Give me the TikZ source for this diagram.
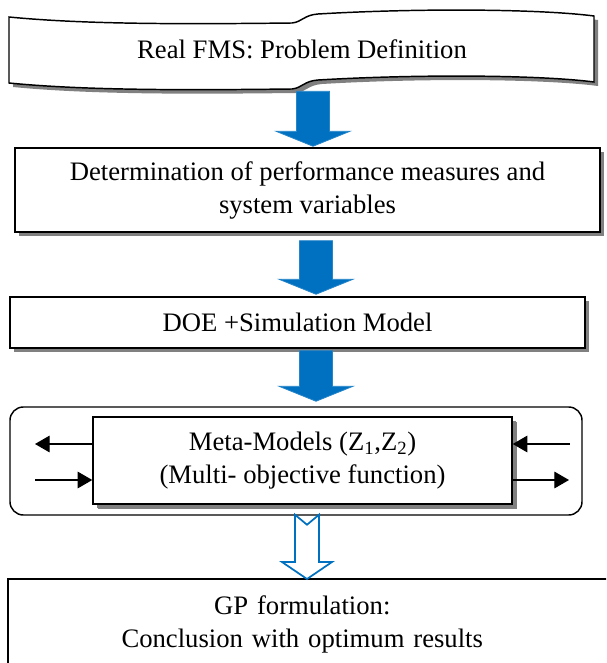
\documentclass[tikz,border=0pt]{standalone}
\usepackage{fontspec}
\setmainfont{Liberation Serif}
\usetikzlibrary{calc, shadows, arrows.meta}
\definecolor{arrowBlue}{RGB}{0,112,192}
\definecolor{shadowGray}{RGB}{128,128,128}
\tikzstyle{stepbox} = [rectangle, draw=black, line width=1.1pt, fill=white, align=center, font=\fontsize{20}{24.75}\selectfont, drop shadow={shadow xshift=3pt, shadow yshift=-3pt, fill=shadowGray, opacity=1}]
\tikzstyle{plaintext} = [align=center, font=\fontsize{20}{24.75}\selectfont]
\tikzstyle{blockarrow} = [fill=arrowBlue, draw=arrowBlue!85!white, line width=0.6pt, to path={($(\tikztostart)+(-16.5,0)$) -- ($(\tikztostart)+(16.5,0)$) -- ($(\tikztotarget)+(16.5,-15)$) -- ($(\tikztotarget)+(37,-15)$) -- (\tikztotarget) -- ($(\tikztotarget)+(-37,-15)$) -- ($(\tikztotarget)+(-16.5,-15)$) -- cycle}]
\tikzstyle{hollowarrow} = [draw=arrowBlue, fill=white, line width=1.3pt, line join=miter, to path={($(\tikztostart)+(-12,0)$) -- ($(\tikztostart)+(0,10)$) -- ($(\tikztostart)+(12,0)$) -- ($(\tikztotarget)+(12,-17)$) -- ($(\tikztotarget)+(25,-17)$) -- (\tikztotarget) -- ($(\tikztotarget)+(-25,-17)$) -- ($(\tikztotarget)+(-12,-17)$) -- cycle}]
\tikzstyle{sidearrow} = [line width=0.8pt, -{Triangle[length=11pt, width=12.5pt]}]

\begin{document}
\begin{tikzpicture}[x=0.75pt, y=-0.75pt]
            \useasboundingbox (0,0) rectangle (606,663);
            \clip (0,0) rectangle (606,663);

            % Problem definition banner
            \draw[fill=white, line width=1.1pt, drop shadow={shadow xshift=3pt, shadow yshift=-3pt, fill=shadowGray, opacity=1}]
                (9,17) .. controls (90,25) and (200,24) .. (292,23) .. controls (302,22) and (304,15) .. (318,14)
                .. controls (420,8) and (540,9) .. (594,16) -- (594,82)
                .. controls (540,75) and (420,74) .. (318,80) .. controls (304,81) and (302,88) .. (292,89)
                .. controls (200,90) and (90,91) .. (9,83) -- cycle;
            \node (realfms) [plaintext, minimum height=63pt] at (302,49) {Real FMS: Problem Definition};

            % Steps
            \node (determ) [stepbox, minimum width=438.75pt, minimum height=63pt] at (307.5,190) {Determination of performance measures and\\system variables};
            \node (doe) [stepbox, minimum width=431.25pt, minimum height=38.25pt] at (297.5,322.5) {DOE +Simulation Model};
            \node (frame) [rectangle, draw=black, line width=1.1pt, rounded corners=10pt, minimum width=429pt, minimum height=81pt] at (296,461) {};
            \node (meta) [stepbox, minimum width=314.25pt, minimum height=65.25pt, drop shadow={shadow xshift=3.5pt, shadow yshift=-3.5pt, fill=shadowGray, opacity=1}] at (302.5,460.5) {Meta-Models (Z\textsubscript{1},Z\textsubscript{2})\\(Multi- objective function)};
            \node (gp) [plaintext, anchor=north west, text width=441pt, inner xsep=0pt, minimum height=68.25pt] at (8,579) {GP formulation:\\Conclusion with optimum results};
            \draw[line width=1.1pt] (gp.south west) -- (gp.north west) -- ++(620,0);

            % Flow arrows
            \coordinate (colA) at (313,0);
            \coordinate (colB) at (316,0);
            \coordinate (colC) at (307,0);
            \draw[blockarrow] (realfms.south -| colA) to ($(determ.north -| colA)+(0,-1)$);
            \draw[blockarrow] (determ.south -| colB) ++(0,8) to ($(doe.north -| colB)+(0,-2)$);
            \draw[blockarrow] (doe.south -| colB) ++(0,2) to ($(frame.north -| colB)+(0,-5)$);
            \draw[hollowarrow] (frame.south -| colC) ++(0,-1) to (gp.north -| colC);

            % Meta-model in/out
            \coordinate (upL) at (35,444);
            \coordinate (loL) at (35,480);
            \coordinate (upR) at (570,444);
            \coordinate (loR) at (569,480);
            \draw[sidearrow] (upL -| meta.west) -- (upL);
            \draw[sidearrow] (loL) -- (loL -| meta.west);
            \draw[sidearrow] (upR) -- (upR -| meta.east);
            \draw[sidearrow] (loR -| meta.east) -- (loR);
        \end{tikzpicture}
\end{document}
